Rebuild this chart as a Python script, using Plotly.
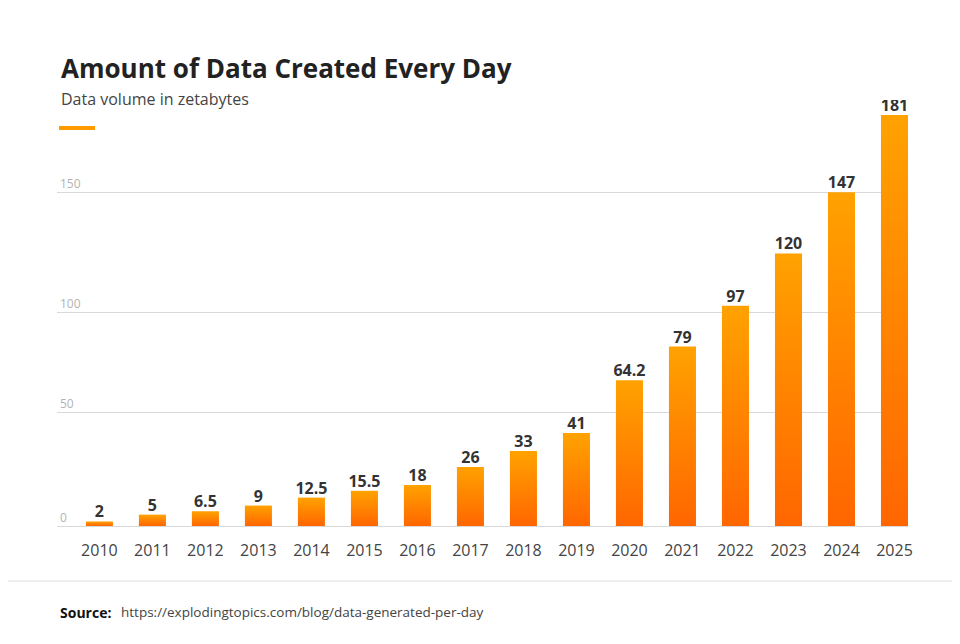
import plotly.graph_objects as go

# Data
years = ["2010", "2011", "2012", "2013", "2014", "2015", "2016", "2017",
         "2018", "2019", "2020", "2021", "2022", "2023", "2024", "2025"]
zettabytes = [2, 5, 6.5, 9, 12.5, 15.5, 18, 26, 33, 41, 64.2, 79, 97, 120, 147, 181]

# gridlines in the original sit at these values, labelled as below
grid_vals = [0, 50, 94, 147]
grid_text = ["0", "50", "100", "150"]

# the page body has an 8px margin, so the figure is drawn 8px in from the
# window edge; all positions below are in window pixels
PAGE = 8
W, H = 960 - 2 * PAGE, 644 - 2 * PAGE
PLOT_LEFT, PLOT_RIGHT, PLOT_TOP, PLOT_BOTTOM = 57, 908, 100, 526
L = PLOT_LEFT - PAGE
T = PLOT_TOP - PAGE
plot_w = PLOT_RIGHT - PLOT_LEFT
plot_h = PLOT_BOTTOM - PLOT_TOP
R = W - L - plot_w
B = H - T - plot_h


def px_x(px):
    return (px - PLOT_LEFT) / plot_w


def px_y(py):
    return (PLOT_BOTTOM - py) / plot_h


BAR_HALF = 0.255
x_idx = list(range(len(years)))

fig = go.Figure()

# each bar is a filled polygon so it can carry its own vertical gradient
for i, v in zip(x_idx, zettabytes):
    fig.add_trace(go.Scatter(
        x=[i - BAR_HALF, i - BAR_HALF, i + BAR_HALF, i + BAR_HALF, i - BAR_HALF],
        y=[0, v, v, 0, 0],
        mode="lines",
        line=dict(width=0),
        fill="toself",
        fillgradient=dict(type="vertical",
                          colorscale=[[0, "#FF6600"], [1, "#FFA200"]]),
        hoverinfo="skip",
        showlegend=False,
    ))

# value labels on top of the bars
fig.add_trace(go.Scatter(
    x=x_idx,
    y=zettabytes,
    mode="text",
    text=[f"<b>{v:g}</b>" for v in zettabytes],
    textposition="top center",
    textfont=dict(family="Open Sans", size=16, color="#333333"),
    hoverinfo="skip",
    showlegend=False,
))

fig.update_layout(
    width=W,
    height=H,
    margin=dict(l=L, r=R, t=T, b=B),
    paper_bgcolor="white",
    plot_bgcolor="white",
    font=dict(family="Open Sans", color="#444444"),
    showlegend=False,
    xaxis=dict(
        range=[-0.8, len(years) - 1 + BAR_HALF],
        tickvals=x_idx,
        ticktext=years,
        tickfont=dict(size=16, color="#444444"),
        ticks="outside",
        ticklen=10,
        tickcolor="rgba(0,0,0,0)",
        showgrid=False,
        zeroline=False,
        showline=True,
        linecolor="#d9d9d9",
        linewidth=1,
        fixedrange=True,
    ),
    yaxis=dict(
        range=[0, plot_h / 2.271],
        tickvals=grid_vals,
        ticktext=grid_text,
        ticklabelposition="inside top",
        tickfont=dict(size=12, color="#b3b3b3"),
        showgrid=True,
        gridcolor="#d9d9d9",
        gridwidth=1,
        zeroline=False,
        showline=False,
        fixedrange=True,
    ),
    shapes=[
        # short orange accent under the subtitle
        dict(type="line", xref="paper", yref="paper",
             x0=px_x(59), x1=px_x(95), y0=px_y(128), y1=px_y(128),
             line=dict(color="#FF9A00", width=4)),
        # separator above the source line
        dict(type="line", xref="paper", yref="paper",
             x0=px_x(PAGE), x1=px_x(960 - PAGE), y0=px_y(581), y1=px_y(581),
             line=dict(color="#dcdcdc", width=1)),
    ],
    annotations=[
        dict(text="<b>Amount of Data Created Every Day</b>",
             xref="paper", yref="paper", x=px_x(59), y=px_y(68),
             xanchor="left", yanchor="middle", showarrow=False,
             font=dict(size=26, color="#222222")),
        dict(text="Data volume in zetabytes",
             xref="paper", yref="paper", x=px_x(59), y=px_y(99),
             xanchor="left", yanchor="middle", showarrow=False,
             font=dict(size=16, color="#444444")),
        dict(text="<b>Source:</b>",
             xref="paper", yref="paper", x=px_x(58), y=px_y(612),
             xanchor="left", yanchor="middle", showarrow=False,
             font=dict(size=14, color="#111111")),
        dict(text="https://explodingtopics.com/blog/data-generated-per-day",
             xref="paper", yref="paper", x=px_x(119), y=px_y(612),
             xanchor="left", yanchor="middle", showarrow=False,
             font=dict(size=13.5, color="#444444")),
    ],
)

fig.write_html("out.html")
